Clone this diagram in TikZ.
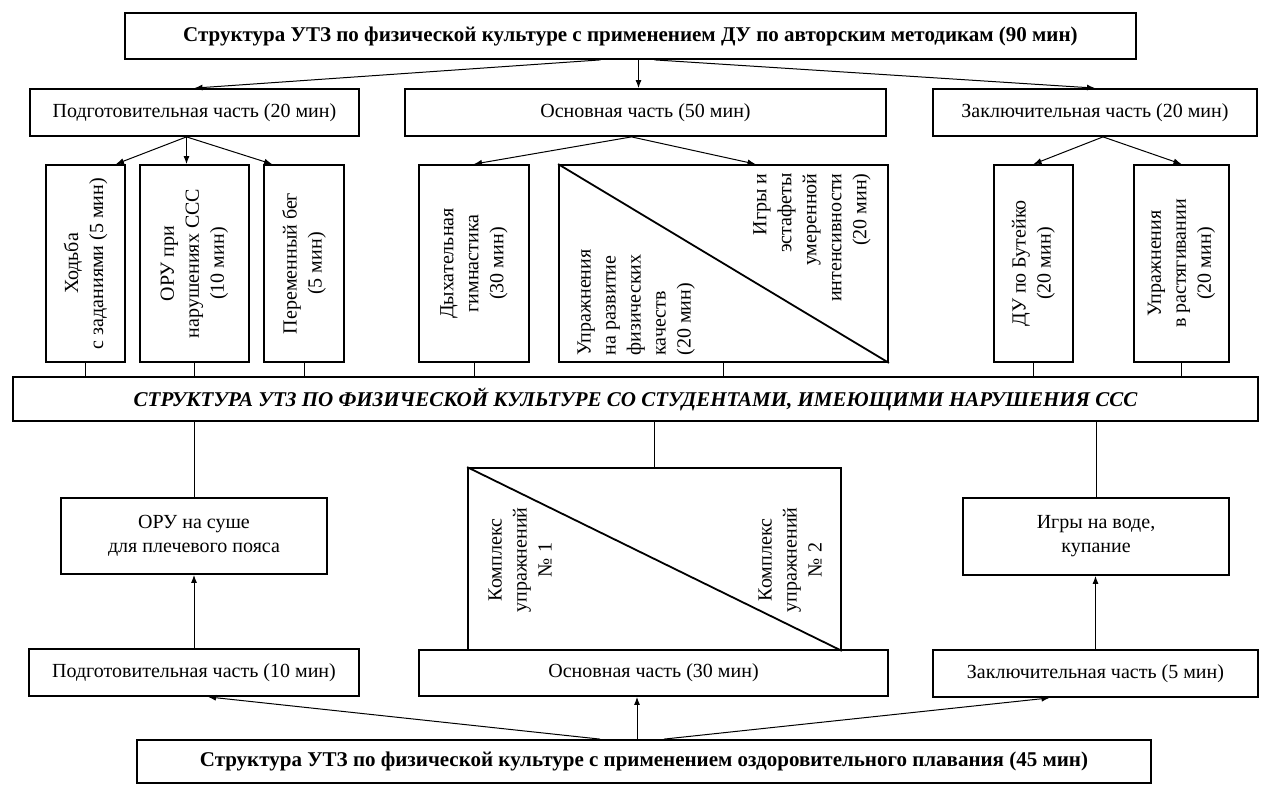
\documentclass[tikz,border=0pt]{standalone}
\usepackage{fontspec}
\setmainfont{Liberation Serif}
\usetikzlibrary{arrows.meta}

\begin{document}
\begin{tikzpicture}[
  x=0.5pt, y=-0.5pt,
  font=\fontsize{10}{12}\selectfont,
  box/.style={draw, line width=0.9pt, align=center, inner sep=2pt},
  hbox/.style={box, minimum height=23.5pt},
  vbox/.style={draw, line width=0.9pt, minimum height=98.5pt, inner sep=0pt},
  vlbl/.style={rotate=90, align=center, inner sep=1pt,
               font=\fontsize{10}{12.5}\selectfont},
  head/.style={box, minimum height=22pt, font=\fontsize{10.5}{12}\selectfont\bfseries},
  arr/.style={-{Latex[length=4pt, width=3pt]}, line width=0.5pt},
  ln/.style={line width=0.5pt},
  diag/.style={line width=0.9pt},
]
\useasboundingbox (0,0) rectangle (1261,785);

% ---- upper structure ---------------------------------------------
\node[head, minimum width=505.5pt, minimum height=23pt] (top) at (630.5,36)
  {Структура УТЗ по физической культуре с применением ДУ по авторским методикам (90 мин)};
\node[hbox, minimum width=164.5pt] (prep1) at (194.5,112.5) {Подготовительная часть (20 мин)};
\node[hbox, minimum width=240.5pt] (main1) at (645.5,112.5) {Основная часть (50 мин)};
\node[hbox, minimum width=162pt]   (fin1)  at (1095,112.5)  {Заключительная часть (20 мин)};

\node[vbox, minimum width=39.5pt] (walk) at (85.5,263.5) {};
\node[vlbl] (walk-t) at (walk) {Ходьба\\с заданиями (5 мин)};
\node[vbox, minimum width=54.5pt] (oru) at (194.5,263.5) {};
\node[vlbl] (oru-t) at (oru) {ОРУ при\\нарушениях ССС\\(10 мин)};
\node[vbox, minimum width=40pt] (run) at (304,263.5) {};
\node[vlbl] (run-t) at (run) {Переменный бег\\(5 мин)};
\node[vbox, minimum width=55pt] (breath) at (474,263.5) {};
\node[vlbl] (breath-t) at (breath) {Дыхательная\\гимнастика\\(30 мин)};
\node[vbox, minimum width=164.5pt] (tri1) at (723.5,263.5) {};
\draw[diag] (tri1.north west) -- (tri1.south east);
\node[vlbl, align=left, anchor=north west] (tri1-a) at ([xshift=8.5pt,yshift=2.5pt]tri1.south west)
  {Упражнения\\на развитие\\физических\\качеств\\(20 мин)};
\node[vlbl, align=right, anchor=south east] (tri1-b) at ([xshift=-8pt,yshift=-3.5pt]tri1.north east)
  {Игры и\\эстафеты\\умеренной\\интенсивности\\(20 мин)};
\node[vbox, minimum width=39.5pt] (buteyko) at (1033.5,263.5) {};
\node[vlbl] (buteyko-t) at (buteyko) {ДУ по Бутейко\\(20 мин)};
\node[vbox, minimum width=47.5pt] (stretch) at (1181.5,263.5) {};
\node[vlbl] (stretch-t) at (stretch) {Упражнения\\в растягивании\\(20 мин)};

% ---- middle bar --------------------------------------------------
\node[head, minimum width=622.5pt, font=\fontsize{10.5}{12}\selectfont\bfseries\itshape] (ssc) at (635.5,399)
  {СТРУКТУРА УТЗ ПО ФИЗИЧЕСКОЙ КУЛЬТУРЕ СО СТУДЕНТАМИ, ИМЕЮЩИМИ НАРУШЕНИЯ ССС};

% ---- lower structure ---------------------------------------------
\node[box, minimum width=133pt, minimum height=38pt] (oru2) at (194,536) {ОРУ на суше\\для плечевого пояса};
\node[vbox, minimum width=186.5pt, minimum height=91pt] (tri2) at (654.5,559) {};
\draw[diag] (tri2.north west) -- (tri2.south east);
\node[vlbl] (tri2-a) at (520,560) {Комплекс\\упражнений\\№ 1};
\node[vlbl] (tri2-b) at (790,560) {Комплекс\\упражнений\\№ 2};
\node[box, minimum width=133pt, minimum height=38.5pt] (games) at (1096,536.5) {Игры на воде,\\купание};
\node[hbox, minimum width=165pt]   (prep2) at (194,672.5)  {Подготовительная часть (10 мин)};
\node[hbox, minimum width=234.5pt, minimum height=23pt] (main2) at (653.5,673) {Основная часть (30 мин)};
\node[hbox, minimum width=162.5pt] (fin2)  at (1095.5,673.5) {Заключительная часть (5 мин)};
\node[head, minimum width=507pt, minimum height=21.5pt] (bottom) at (644,761.5)
  {Структура УТЗ по физической культуре с применением оздоровительного плавания (45 мин)};

% ---- arrows, upper -----------------------------------------------
\draw[arr] ([xshift=-15pt]top.south) -- (prep1.north);
\draw[arr] ([xshift=4pt]top.south) -- ([xshift=4pt]top.south |- main1.north);
\draw[arr] ([xshift=12pt]top.south) -- (fin1.north);
\draw[arr] ([xshift=-4pt]prep1.south) -- ([xshift=-5pt]walk.north east);
\draw[arr] ([xshift=-4pt]prep1.south) -- ([xshift=-4pt]prep1.south |- oru.north);
\draw[arr] ([xshift=-4pt]prep1.south) -- ([xshift=4.5pt]run.north west);
\draw[arr] ([xshift=-7pt]main1.south) -- (breath.north);
\draw[arr] ([xshift=-7pt]main1.south) -- ([xshift=16pt]tri1.north);
\draw[arr] ([xshift=4pt]fin1.south) -- (buteyko.north);
\draw[arr] ([xshift=4pt]fin1.south) -- (stretch.north);

% ---- links to the bar --------------------------------------------
\foreach \n in {walk,oru,run,breath,tri1,buteyko,stretch}
  \draw[ln] (\n.south) -- (\n.south |- ssc.north);
\draw[ln] (ssc.south -| oru2.north) -- (oru2.north);
\draw[ln] (ssc.south -| tri2.north) -- (tri2.north);
\draw[ln] (ssc.south -| games.north) -- (games.north);

% ---- arrows, lower -----------------------------------------------
\draw[arr] (prep2.north) -- (oru2.south);
\draw[arr] (fin2.north) -- (fin2.north |- games.south);
\draw[arr] ([xshift=-22pt]bottom.north) -- ([xshift=7pt]prep2.south);
\draw[arr] ([xshift=-3.5pt]bottom.north) -- ([xshift=-3.5pt]bottom.north |- main2.south);
\draw[arr] ([xshift=10pt]bottom.north) -- ([xshift=-23pt]fin2.south);

\end{tikzpicture}
\end{document}
